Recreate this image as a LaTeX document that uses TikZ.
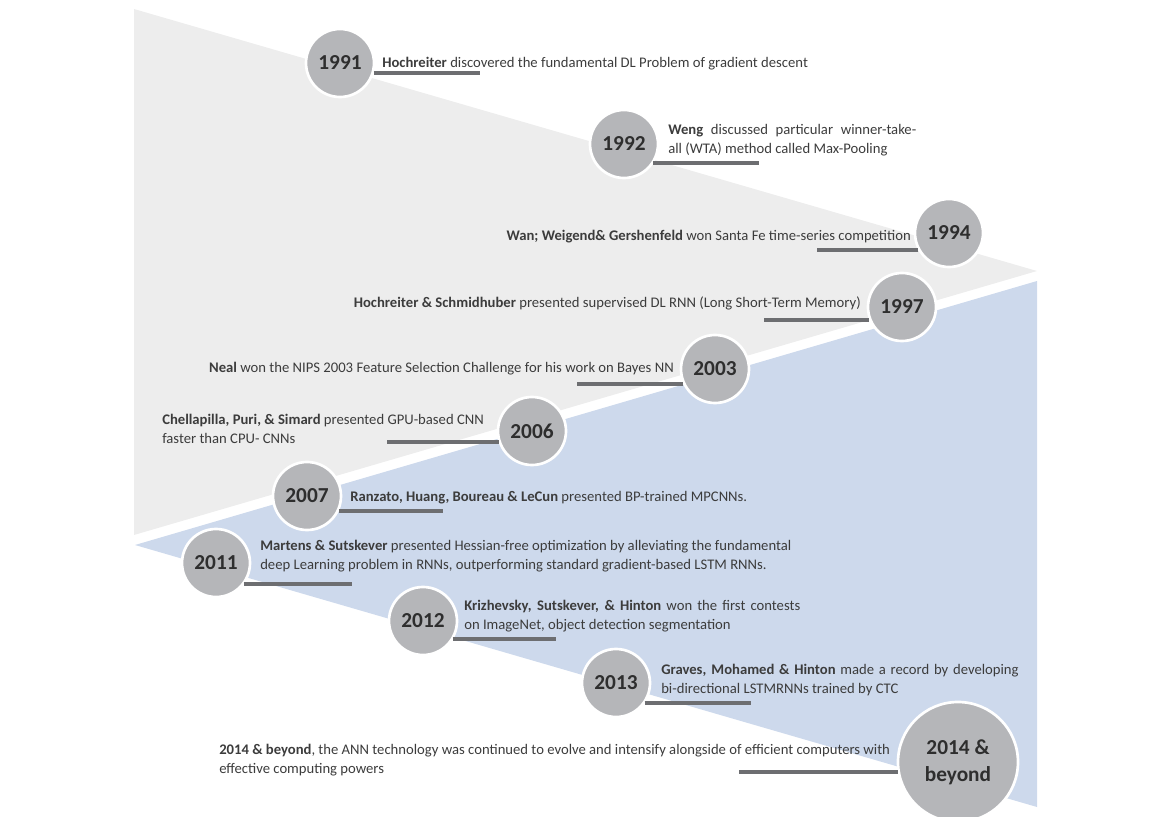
\documentclass[tikz,border=0pt]{standalone}
\usepackage{fontspec}
\setmainfont{Carlito}
\definecolor{bggray}{HTML}{EDEDED}
\definecolor{bgblue}{HTML}{CDD9EC}
\definecolor{circfill}{HTML}{B5B6B9}
\definecolor{barcol}{HTML}{6D6E71}
\definecolor{txt}{HTML}{3C3C3C}
\definecolor{yeartxt}{HTML}{2E2E2E}
\tikzset{
  yearc/.style={circle, fill=circfill, draw=white, line width=2pt, minimum size=51pt, inner sep=0pt,
    font=\bfseries\fontsize{16}{20}\selectfont, text=yeartxt},
  bigyearc/.style={yearc, minimum size=90pt, align=center},
  desc/.style={inner sep=0pt, font=\fontsize{11}{14.25}\selectfont, text=txt, align=left},
  bar/.style={draw=barcol, line width=2.3pt}
}
\begin{document}
\begin{tikzpicture}[x=0.75pt,y=-0.75pt]
\useasboundingbox (0,0) rectangle (1165,817);
\clip (0,0) rectangle (1165,817);
% background wedges
\fill[bggray] (134,9) -- (1037,271) -- (134,535) -- cycle;
\fill[bgblue] (135,545) -- (1037,281) -- (1037,807) -- cycle;
% year circles
\node[yearc] (c1991) at (340,63) {1991};
\node[yearc] (c1992) at (624,144) {1992};
\node[yearc] (c1994) at (949,233) {1994};
\node[yearc] (c1997) at (902,307) {1997};
\node[yearc] (c2003) at (715,369) {2003};
\node[yearc] (c2006) at (532,431) {2006};
\node[yearc] (c2007) at (307,496) {2007};
\node[yearc] (c2011) at (216,563) {2011};
\node[yearc] (c2012) at (423,621) {2012};
\node[yearc] (c2013) at (616,683) {2013};
\node[bigyearc] (c2014) at (958,762) {2014 \&\\beyond};
% free ends of the bars
\coordinate (e1991) at (480,73);
\coordinate (e1992) at (759,163);
\coordinate (e1994) at (817,250);
\coordinate (e1997) at (764,320);
\coordinate (e2003) at (577,384);
\coordinate (e2006) at (387,442);
\coordinate (e2007) at (443,511);
\coordinate (e2011) at (352,584);
\coordinate (e2012) at (556,639);
\coordinate (e2013) at (751,703);
\coordinate (e2014) at (739,772);
% bars (horizontal, starting at the circle edge)
\draw[bar] (e1991 -| c1991.-17) -- (e1991);
\draw[bar] (e1992 -| c1992.-34) -- (e1992);
\draw[bar] (e1994 -| c1994.210) -- (e1994);
\draw[bar] (e1997 -| c1997.202) -- (e1997);
\draw[bar] (e2003 -| c2003.206) -- (e2003);
\draw[bar] (e2006 -| c2006.199) -- (e2006);
\draw[bar] (e2007 -| c2007.-26) -- (e2007);
\draw[bar] (e2011 -| c2011.-38) -- (e2011);
\draw[bar] (e2012 -| c2012.-32) -- (e2012);
\draw[bar] (e2013 -| c2013.-36) -- (e2013);
\draw[bar] (e2014 -| c2014.190) -- (e2014);
% descriptions
\node[desc, anchor=west] (t1991) at (382,64) {\textbf{Hochreiter} discovered the fundamental DL Problem of gradient descent};
\node[desc, anchor=west] (t1992) at (668,140) {\makebox[186pt][s]{\textbf{Weng} discussed particular winner-take-}\\all (WTA) method called Max-Pooling};
\node[desc, anchor=east] (t1994) at (911,237) {\textbf{Wan; Weigend\& Gershenfeld} won Santa Fe time-series competition};
\node[desc, anchor=east] (t1997) at (861,303) {\textbf{Hochreiter \& Schmidhuber} presented supervised DL RNN (Long Short-Term Memory)};
\node[desc, anchor=east] (t2003) at (674,369) {\textbf{Neal} won the NIPS 2003 Feature Selection Challenge for his work on Bayes NN};
\node[desc, anchor=west] (t2006) at (162,429) {\textbf{Chellapilla, Puri, \& Simard} presented GPU-based CNN\\faster than CPU- CNNs};
\node[desc, anchor=west] (t2007) at (350,498) {\textbf{Ranzato, Huang, Boureau \& LeCun} presented BP-trained MPCNNs.};
\node[desc, anchor=west] (t2011) at (260,556) {\textbf{Martens \& Sutskever} presented Hessian-free optimization by alleviating the fundamental\\deep Learning problem in RNNs, outperforming standard gradient-based LSTM RNNs.};
\node[desc, anchor=west] (t2012) at (464,616) {\makebox[252pt][s]{\textbf{Krizhevsky, Sutskever, \& Hinton} won the first contests}\\on ImageNet, object detection segmentation};
\node[desc, anchor=west] (t2013) at (661,680) {\makebox[268pt][s]{\textbf{Graves, Mohamed \& Hinton} made a record by developing}\\bi-directional LSTMRNNs trained by CTC};
\node[desc, anchor=west] (t2014) at (219,760) {\textbf{2014 \& beyond}, the ANN technology was continued to evolve and intensify alongside of efficient computers with\\effective computing powers};
\end{tikzpicture}
\end{document}
